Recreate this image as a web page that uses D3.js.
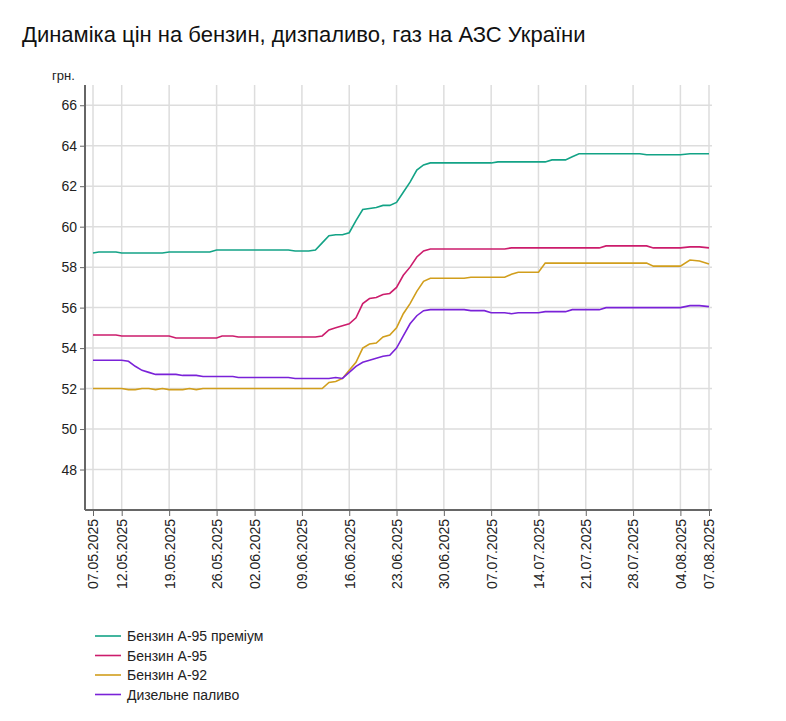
<!DOCTYPE html>
<html><head><meta charset="utf-8">
<script src="https://cdn.jsdelivr.net/npm/d3@7"></script>
<style>body{margin:0;background:#fff;font-family:Arial,"Liberation Sans",sans-serif}</style>
</head><body>
<svg id="chart" width="786" height="721"></svg>
<script>
// daily prices, 07.05.2025 .. 07.08.2025
var startDate = "07.05.2025";
var premium95 = [58.7,58.75,58.75,58.75,58.75,58.7,58.7,58.7,58.7,58.7,58.7,58.7,58.75,58.75,58.75,58.75,58.75,58.75,58.75,
  58.85,58.85,58.85,58.85,58.85,58.85,58.85,58.85,58.85,58.85,58.85,58.85,58.85,58.8,58.8,58.8,58.85,59.2,59.55,59.6,59.6,59.7,60.3,
  60.85,60.9,60.95,61.05,61.05,61.2,61.7,62.2,62.8,63.05,63.15,63.15,63.15,63.15,63.15,63.15,63.15,63.15,63.15,63.15,
  63.2,63.2,63.2,63.2,63.2,63.2,63.2,63.2,63.3,63.3,63.3,63.45,63.6,63.6,63.6,63.6,63.6,63.6,63.6,63.6,63.6,63.6,
  63.55,63.55,63.55,63.55,63.55,63.55,63.6,63.6,63.6];
var a95 = [54.65,54.65,54.65,54.65,54.65,54.6,54.6,54.6,54.6,54.6,54.6,54.6,54.6,54.5,54.5,54.5,54.5,54.5,54.5,54.5,
  54.6,54.6,54.6,54.55,54.55,54.55,54.55,54.55,54.55,54.55,54.55,54.55,54.55,54.55,54.55,54.55,54.6,54.9,55.0,55.1,55.2,55.5,
  56.2,56.45,56.5,56.65,56.7,57.0,57.6,58.0,58.5,58.8,58.9,58.9,58.9,58.9,58.9,58.9,58.9,58.9,58.9,58.9,58.9,58.9,
  58.95,58.95,58.95,58.95,58.95,58.95,58.95,58.95,58.95,58.95,58.95,58.95,58.95,58.95,
  59.05,59.05,59.05,59.05,59.05,59.05,59.05,58.95,58.95,58.95,58.95,58.95,59.0,59.0,58.95];
var a92 = [52.0,52.0,52.0,52.0,52.0,52.0,51.95,51.95,52.0,52.0,51.95,52.0,51.95,51.95,51.95,52.0,51.95,
  52.0,52.0,52.0,52.0,52.0,52.0,52.0,52.0,52.0,52.0,52.0,52.0,52.0,52.0,52.0,52.0,52.0,52.0,52.0,
  52.0,52.3,52.35,52.5,52.9,53.3,54.0,54.2,54.25,54.55,54.65,55.0,55.7,56.2,56.8,57.3,
  57.45,57.45,57.45,57.45,57.45,57.45,57.5,57.5,57.5,57.5,57.5,57.5,57.65,57.75,57.75,57.75,57.75,
  58.2,58.2,58.2,58.2,58.2,58.2,58.2,58.2,58.2,58.2,58.2,58.2,58.2,58.2,58.2,58.2,
  58.05,58.05,58.05,58.05,58.05,58.35,58.3,58.15];
var diesel = [53.4,53.4,53.4,53.4,53.4,53.4,53.35,53.1,52.9,52.8,52.7,52.7,52.7,52.7,52.65,52.65,52.65,
  52.6,52.6,52.6,52.6,52.6,52.6,52.55,52.55,52.55,52.55,52.55,52.55,52.55,52.55,52.55,52.5,52.5,52.5,52.5,
  52.5,52.5,52.55,52.5,52.8,53.1,53.3,53.4,53.5,53.6,53.65,54.0,54.6,55.2,55.6,55.85,
  55.9,55.9,55.9,55.9,55.9,55.9,55.85,55.85,55.85,55.75,55.75,55.75,55.7,55.75,55.75,55.75,55.75,
  55.8,55.8,55.8,55.8,55.9,55.9,55.9,55.9,55.9,56.0,56.0,56.0,56.0,56.0,56.0,56.0,56.0,56.0,56.0,56.0,56.0,
  56.1,56.1,56.05];
var tickLabels = ["07.05.2025","12.05.2025","19.05.2025","26.05.2025","02.06.2025","09.06.2025","16.06.2025",
  "23.06.2025","30.06.2025","07.07.2025","14.07.2025","21.07.2025","28.07.2025","04.08.2025","07.08.2025"];
var seriesNames = ["Бензин А-95 преміум","Бензин А-95","Бензин А-92","Дизельне паливо"];
var colors = ["#13a386","#cc1c6c","#d19e1c","#7a22d8"];

var parse = d3.timeParse("%d.%m.%Y");
var t0 = parse(startDate);
var dates = premium95.map(function(d,i){ return d3.timeDay.offset(t0, i); });
var series = [premium95, a95, a92, diesel];

var svg = d3.select("#chart");
// the source axis is not quite uniform, so the time scale is piecewise
var x = d3.scaleTime()
  .domain(["07.05.2025","12.05.2025","26.05.2025","02.06.2025","04.08.2025","07.08.2025"].map(parse))
  .range([93, 121.7, 216.6, 254.6, 680.4, 709]);
var y = d3.scaleLinear().domain([46, 67]).range([510, 85]);
var tickDates = tickLabels.map(parse);

svg.append("text").attr("x", 22).attr("y", 42).attr("font-size", 22).attr("fill", "#111")
  .text("Динаміка цін на бензин, дизпаливо, газ на АЗС України");
svg.append("text").attr("x", 52).attr("y", 80).attr("font-size", 13).attr("fill", "#222").text("грн.");

// grid
var yt = d3.range(48, 67, 2);
svg.selectAll(".hg").data(yt).enter().append("line")
  .attr("x1", 85).attr("x2", 712).attr("y1", y).attr("y2", y)
  .attr("stroke", "#ddd").attr("stroke-width", 1.5);
svg.selectAll(".vg").data(tickDates).enter().append("line")
  .attr("x1", x).attr("x2", x).attr("y1", 85).attr("y2", 510)
  .attr("stroke", "#ddd").attr("stroke-width", 1.5);

// y axis
var ya = svg.append("g").attr("transform", "translate(85,0)")
  .call(d3.axisLeft(y).tickValues(yt).tickSize(5).tickFormat(d3.format("d")));
ya.select(".domain").attr("stroke", "#666").attr("stroke-width", 2).attr("d", "M0,85V510");
ya.selectAll("text").attr("font-size", 14).attr("fill", "#222").attr("font-family", "Arial,Liberation Sans");
ya.selectAll(".tick line").attr("stroke", "#666");

// x axis
var xa = svg.append("g").attr("transform", "translate(0,510)")
  .call(d3.axisBottom(x).tickValues(tickDates).tickSize(6).tickFormat(d3.timeFormat("%d.%m.%Y")));
xa.select(".domain").attr("stroke", "#666").attr("stroke-width", 2).attr("d", "M85,0H712");
xa.selectAll(".tick line").attr("stroke", "#666");
xa.selectAll("text").attr("font-size", 14).attr("fill", "#222").attr("font-family", "Arial,Liberation Sans")
  .attr("transform", "rotate(-90)").attr("text-anchor", "end").attr("x", -9).attr("y", 0).attr("dy", "0.35em");

var line = d3.line().x(function(d,i){ return x(dates[i]); }).y(function(d){ return y(d); });
series.forEach(function(s, k){
  svg.append("path").datum(s).attr("d", line).attr("fill", "none")
    .attr("stroke", colors[k]).attr("stroke-width", 1.6);
});

// legend
seriesNames.forEach(function(n, k){
  var ly = 636 + k * 19.5;
  svg.append("line").attr("x1", 95).attr("x2", 121).attr("y1", ly).attr("y2", ly)
    .attr("stroke", colors[k]).attr("stroke-width", 1.6);
  svg.append("text").attr("x", 127).attr("y", ly + 5).attr("font-size", 14).attr("fill", "#222").text(n);
});
</script>
</body></html>
